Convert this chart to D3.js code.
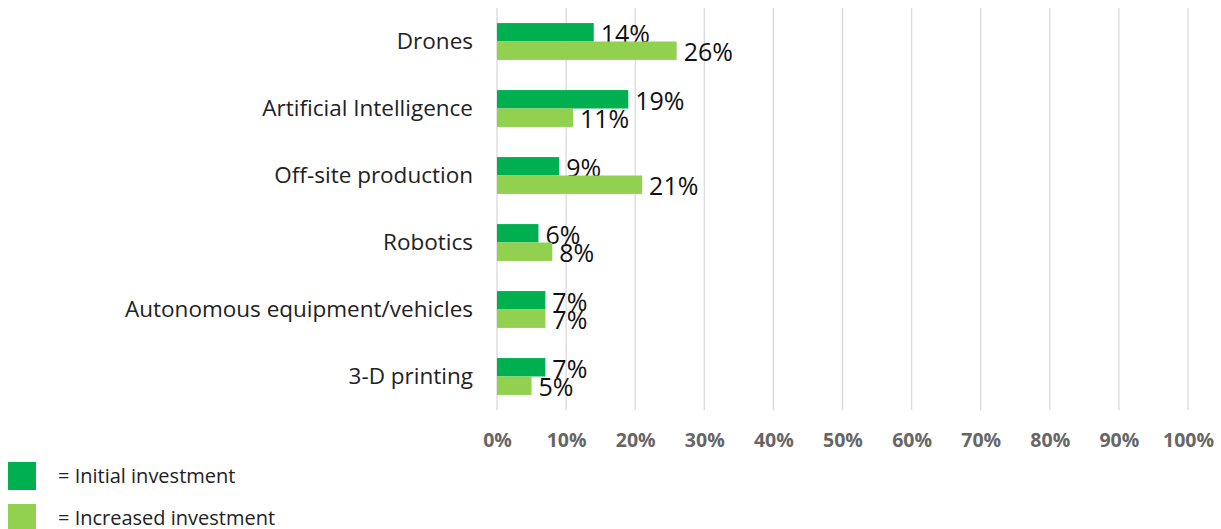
<!DOCTYPE html>
<html><head><meta charset="utf-8">
<script src="https://cdn.jsdelivr.net/npm/d3@7"></script>
<style>body{margin:0;background:#fff;}svg{display:block;}</style>
</head><body>
<svg id="c" width="1221" height="529"></svg>
<script>
const categories = ["Drones","Artificial Intelligence","Off-site production","Robotics","Autonomous equipment/vehicles","3-D printing"];
const initialInvestment = [14,19,9,6,7,7];
const increasedInvestment = [26,11,21,8,7,5];
const seriesNames = ["= Initial investment","= Increased investment"];
const tickValues = [0,10,20,30,40,50,60,70,80,90,100];
const colors = ["#00B050","#92D050"];

const svg = d3.select("#c");
const font = "'Open Sans', sans-serif";
const x = d3.scaleLinear().domain([0,100]).range([497,1188]);
const y = d3.scaleBand().domain(categories).range([8,410]).paddingInner(0.45).paddingOuter(0.225);
const ys = d3.scaleBand().domain([0,1]).range([0,y.bandwidth()]);

// gridlines
svg.append("g").selectAll("line").data(tickValues).join("line")
  .attr("x1",d=>x(d)).attr("x2",d=>x(d)).attr("y1",8).attr("y2",410)
  .attr("stroke","#d9d9d9").attr("stroke-width",1.3);

// axis labels
const ax = d3.axisBottom(x).tickValues(tickValues).tickFormat(d=>d+"%").tickSize(0).tickPadding(0);
const axg = svg.append("g").attr("transform","translate(0,440)").call(ax);
axg.select(".domain").remove();
axg.selectAll("text").attr("dy","0.35em").attr("font-family",font).attr("font-size",19.5).attr("font-weight","bold").attr("fill","#666");

// category labels
const yAx = d3.axisLeft(y).tickSize(0).tickPadding(0);
const yg = svg.append("g").attr("transform","translate(473,0)").call(yAx);
yg.select(".domain").remove();
yg.selectAll("text").attr("font-family",font).attr("font-size",22.5).attr("fill","#222");

const series = [initialInvestment, increasedInvestment];
series.forEach((vals,si)=>{
  const g = svg.append("g");
  g.selectAll("rect").data(categories).join("rect")
    .attr("x",x(0)).attr("y",(c)=>y(c)+ys(si))
    .attr("width",(c,i)=>x(vals[i])-x(0)).attr("height",ys.bandwidth())
    .attr("fill",colors[si]);
  g.selectAll("text").data(categories).join("text")
    .attr("x",(c,i)=>x(vals[i])+7).attr("y",(c)=>y(c)+ys(si)+ys.bandwidth()/2+2)
    .attr("dy","0.35em")
    .attr("font-family",font).attr("font-size",25).attr("fill","#111")
    .text((c,i)=>vals[i]+"%");
});

// legend
const lg = svg.append("g");
seriesNames.forEach((n,i)=>{
  lg.append("rect").attr("x",8).attr("y",462+i*42).attr("width",28).attr("height",28).attr("fill",colors[i]);
  lg.append("text").attr("x",58).attr("y",476+i*42).attr("dy","0.35em")
    .attr("font-family",font).attr("font-size",20).attr("fill","#222").text(n);
});
</script>
</body></html>
